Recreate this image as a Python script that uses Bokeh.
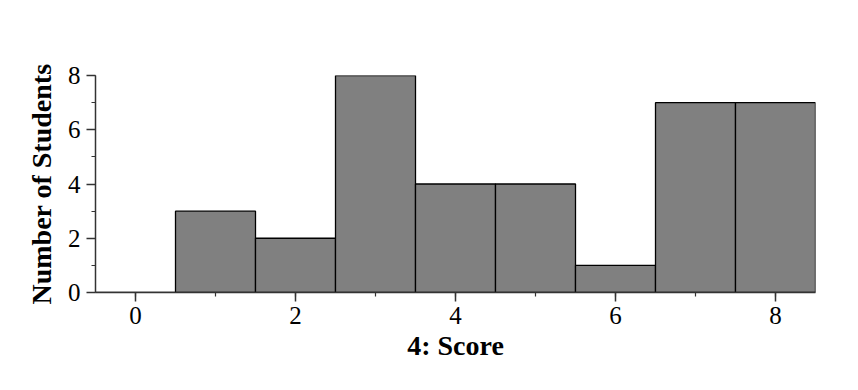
from bokeh.plotting import figure
from bokeh.models import SingleIntervalTicker, Range1d
from bokeh.embed import file_html
from bokeh.resources import INLINE

scores = [0, 1, 2, 3, 4, 5, 6, 7, 8]
students = [0, 3, 2, 8, 4, 4, 1, 7, 7]
x_label = "4: Score"
y_label = "Number of Students"

p = figure(width=858, height=390, output_backend="svg", toolbar_location=None,
           x_range=Range1d(-0.5, 8.5), y_range=Range1d(0, 8),
           min_border_left=95, min_border_right=43, min_border_top=75, min_border_bottom=98)
p.outline_line_color = None
p.grid.grid_line_color = None

left = [s - 0.5 for s in scores]
right = [s + 0.5 for s in scores]
p.quad(left=left, right=right, bottom=0, top=students,
       fill_color="#808080", line_color="black", line_width=1.3)

for ax in (p.xaxis[0], p.yaxis[0]):
    ax.ticker = SingleIntervalTicker(interval=2, num_minor_ticks=2)
    ax.axis_line_color = "#333333"
    ax.axis_line_width = 1.5
    ax.major_tick_line_color = "#333333"
    ax.minor_tick_line_color = "#333333"
    ax.major_tick_line_width = 1.5
    ax.minor_tick_line_width = 1.2
    ax.major_tick_in = 0
    ax.minor_tick_in = 0
    ax.major_tick_out = 9
    ax.minor_tick_out = 4
    ax.major_label_text_font = "Liberation Serif"
    ax.major_label_text_font_size = "25px"
    ax.major_label_text_color = "black"
    ax.axis_label_text_font = "Liberation Serif"
    ax.axis_label_text_font_style = "bold"
    ax.axis_label_text_font_size = "28px"
    ax.axis_label_text_color = "black"

p.xaxis.axis_label = x_label
p.yaxis.axis_label = y_label
p.yaxis.major_label_orientation = "horizontal"
p.xaxis.major_label_standoff = 5
p.xaxis.axis_label_standoff = 3
p.yaxis.major_label_standoff = 6
p.yaxis.axis_label_standoff = 8

open("out.html", "w").write(file_html(p, INLINE))
